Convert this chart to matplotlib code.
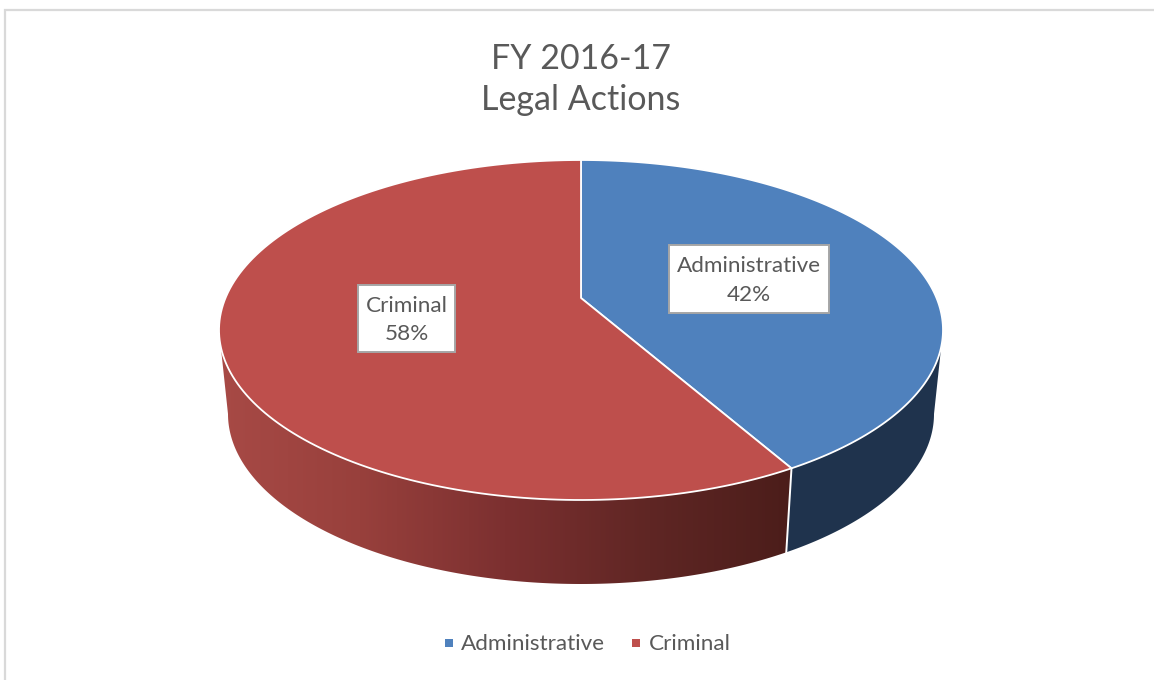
"""FY 2016-17 legal actions, drawn as an Excel style 3D pie."""
import numpy as np
import matplotlib
matplotlib.use("Agg")
import matplotlib.pyplot as plt
from matplotlib.patches import Polygon, Rectangle
from matplotlib.colors import LinearSegmentedColormap

categories = ["Administrative", "Criminal"]
shares = [42, 58]
title_lines = ["FY 2016-17", "Legal Actions"]

plt.rcParams["font.family"] = ["Lato", "DejaVu Sans"]

TEXT = "#595959"
BLUE = "#4f81bd"
RED = "#be4f4c"
BLUE_SIDE = "#1f334d"

# pie geometry, in image pixels
CX, CY, RX, RY = 581, 330, 362, 170   # top ellipse
BY, BRX = 414, 353                    # bottom ellipse
APEX = (581, 298)                     # slices meet here because of the perspective
WARP = 8                              # degrees, same reason


def warp(deg):
    return deg + WARP * np.sin(np.radians(2 * deg))


def rim(t0, t1, cy=CY, rx=RX, ry=RY, n=160):
    t = np.radians(np.linspace(t0, t1, n))
    return np.column_stack([CX + rx * np.sin(t), cy - ry * np.cos(t)])


fig = plt.figure(figsize=(11.54, 6.8), dpi=100)
ax = fig.add_axes([0, 0, 1, 1])
ax.axis("off")

# chart frame
ax.add_patch(Rectangle((5, 10), 1300, 800, fc="white", ec="#d9d9d9", lw=1.6))

# angles of the slices, clockwise from the top
cuts = np.cumsum([0] + shares) / sum(shares) * 360
split = warp(cuts[1])


def side(t0, t1):
    return np.vstack([rim(t0, t1), rim(t1, t0, cy=BY, rx=BRX)])


# side walls
ax.add_patch(Polygon(side(90, split), fc=BLUE_SIDE, ec="none", zorder=2))

red_wall = Polygon(side(split, 270), fc="none", ec="none", zorder=2)
ax.add_patch(red_wall)
shade = LinearSegmentedColormap.from_list(
    "wall", ["#a84a46", "#98403c", "#7c3030", "#5f2624", "#4b1d1a"])
grad = ax.imshow(np.linspace(0, 1, 256)[None, :], cmap=shade, aspect="auto",
                 extent=(215, 795, 590, 300), zorder=2)
grad.set_clip_path(red_wall)

# white seam between the walls
seam = np.array([rim(split, split, n=1)[0], rim(split, split, cy=BY, rx=BRX, n=1)[0]])
ax.plot(seam[:, 0], seam[:, 1], color="white", lw=1.4, zorder=3)

# top faces
colors = [BLUE, RED]
for i, c in enumerate(colors):
    t0, t1 = warp(cuts[i]), warp(cuts[i + 1])
    pts = np.vstack([[APEX], rim(t0, t1)])
    ax.add_patch(Polygon(pts, closed=True, fc=c, ec="white", lw=1.3,
                         joinstyle="round", zorder=4))

# data labels
label_boxes = [(749, 279, 160, 68), (406.5, 318.5, 97, 67)]
for name, val, (x, y, w, h) in zip(categories, shares, label_boxes):
    ax.add_patch(Rectangle((x - w / 2, y - h / 2), w, h, fc="white",
                           ec="#a6a6a6", lw=1.4, zorder=5))
    ax.text(x, y + 1.5, f"{name}\n{val}%", ha="center", va="center", fontsize=16.2,
            color=TEXT, linespacing=1.55, zorder=6)

# title
ax.text(581, 79.5, "\n".join(title_lines), ha="center", va="center", fontsize=24.5,
        color=TEXT, linespacing=1.38, zorder=6)

# legend
legend_x = [(449, 461), (636, 649)]
for name, c, (mx, tx) in zip(categories, colors, legend_x):
    ax.add_patch(Rectangle((mx - 4, 639), 8, 8, fc=c, ec="none", zorder=6))
    ax.text(tx, 644, name, ha="left", va="center", fontsize=16.2, color=TEXT, zorder=6)

ax.set_xlim(0, 1154)
ax.set_ylim(680, 0)
fig.savefig("out.png", dpi=100, facecolor="white")
